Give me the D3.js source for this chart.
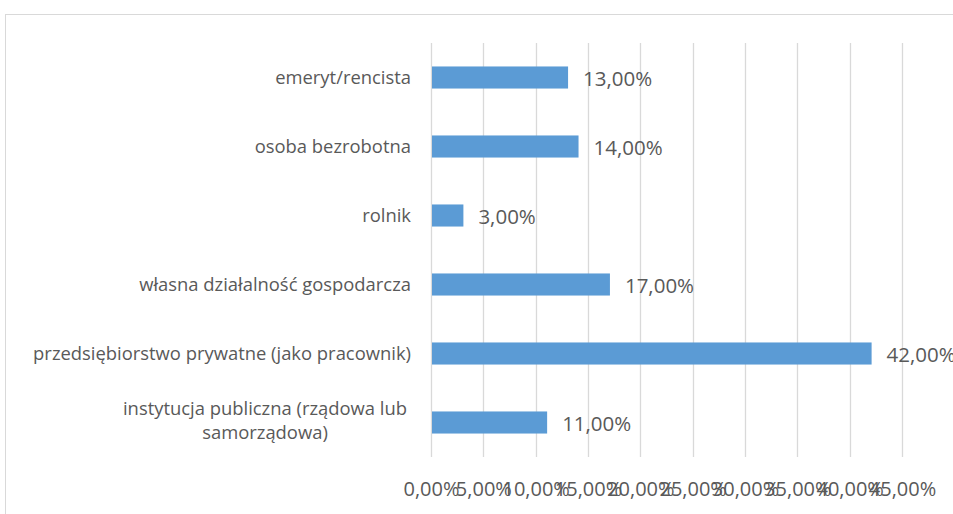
<!DOCTYPE html>
<html>
<head>
<meta charset="utf-8">
<script src="https://cdn.jsdelivr.net/npm/d3@7"></script>
<style>
  body { margin: 0; background: #fff; }
  text { font-family: "Open Sans", sans-serif; fill: #595959; }
</style>
</head>
<body>
<div id="chart"></div>
<script>
// data, top to bottom as in the picture
var categories = [
  "emeryt/rencista",
  "osoba bezrobotna",
  "rolnik",
  "własna działalność gospodarcza",
  "przedsiębiorstwo prywatne (jako pracownik)",
  "instytucja publiczna (rządowa lub samorządowa)"
];
var values = [13, 14, 3, 17, 42, 11];
var ticks = [0, 5, 10, 15, 20, 25, 30, 35, 40, 45];

// label lines (wrapped like the original)
var labelLines = {
  "instytucja publiczna (rządowa lub samorządowa)": ["instytucja publiczna (rządowa lub", "samorządowa)"]
};

var svgWidth = 953, svgHeight = 514;
var margin = { top: 43, bottom: 57, left: 431, right: 51 };
var width = svgWidth - margin.left - margin.right;
var height = svgHeight - margin.top - margin.bottom;

var pl = d3.formatLocale({ decimal: ",", thousands: " ", grouping: [3], currency: ["", " zł"] });
var fmt = function(v) { return pl.format(".2f")(v) + "%"; };

var svg = d3.select("#chart").append("svg")
  .attr("width", svgWidth)
  .attr("height", svgHeight);

// chart border
svg.append("rect")
  .attr("x", 5.5).attr("y", 14.5)
  .attr("width", 1000).attr("height", 600)
  .attr("fill", "none")
  .attr("stroke", "#d9d9d9");

var chartGroup = svg.append("g")
  .attr("transform", `translate(${margin.left}, ${margin.top})`);

var x = d3.scaleLinear().domain([0, 45]).range([0, width]);
var y = d3.scaleBand().domain(categories).range([0, height]).paddingInner(0.68).paddingOuter(0.34);

// gridlines
chartGroup.selectAll(".grid")
  .data(ticks)
  .enter()
  .append("line")
  .attr("x1", d => Math.round(x(d)) + 0.5)
  .attr("x2", d => Math.round(x(d)) + 0.5)
  .attr("y1", 0)
  .attr("y2", height)
  .attr("stroke", "#d9d9d9")
  .attr("stroke-width", 1.3);

// x axis labels
var xAxis = d3.axisBottom(x).tickValues(ticks).tickFormat(fmt).tickSize(0).tickPadding(25);
var xg = chartGroup.append("g")
  .attr("transform", `translate(0, ${height})`)
  .call(xAxis);
xg.select(".domain").remove();
xg.selectAll("text")
  .attr("font-size", "20px")
  .attr("fill", "#595959")
  .style("font-family", "'Open Sans', sans-serif");

// bars
chartGroup.selectAll(".bar")
  .data(values)
  .enter()
  .append("rect")
  .attr("x", x(0) + 1)
  .attr("y", (d, i) => y(categories[i]))
  .attr("width", d => x(d) - x(0))
  .attr("height", y.bandwidth())
  .attr("fill", "#5b9bd5");

// value labels
chartGroup.selectAll(".val")
  .data(values)
  .enter()
  .append("text")
  .attr("x", d => x(d) + 16)
  .attr("y", (d, i) => y(categories[i]) + y.bandwidth() / 2)
  .attr("dy", "0.4em")
  .attr("font-size", "20.5px")
  .attr("fill", "#404040")
  .text(d => fmt(d));

// category labels
var cat = chartGroup.selectAll(".cat")
  .data(categories)
  .enter()
  .append("text")
  .attr("font-size", "18.4px")
  .attr("text-anchor", "end")
  .attr("x", -20)
  .attr("y", d => y(d) + y.bandwidth() / 2);

cat.each(function(d) {
  var lines = labelLines[d] || [d];
  var t = d3.select(this);
  if (lines.length === 1) {
    t.append("tspan").attr("dy", "0.35em").text(d);
  } else {
    // two centred lines, centred under the right-aligned first line
    t.attr("text-anchor", "middle");
    var tmp = t.append("tspan").text(lines[0]);
    var w = this.getComputedTextLength();
    tmp.remove();
    var cx = -24 - w / 2;
    lines.forEach(function(l, i) {
      t.append("tspan")
        .attr("x", cx)
        .attr("dy", i === 0 ? "-0.4em" : "1.32em")
        .text(l);
    });
  }
});
</script>
</body>
</html>
